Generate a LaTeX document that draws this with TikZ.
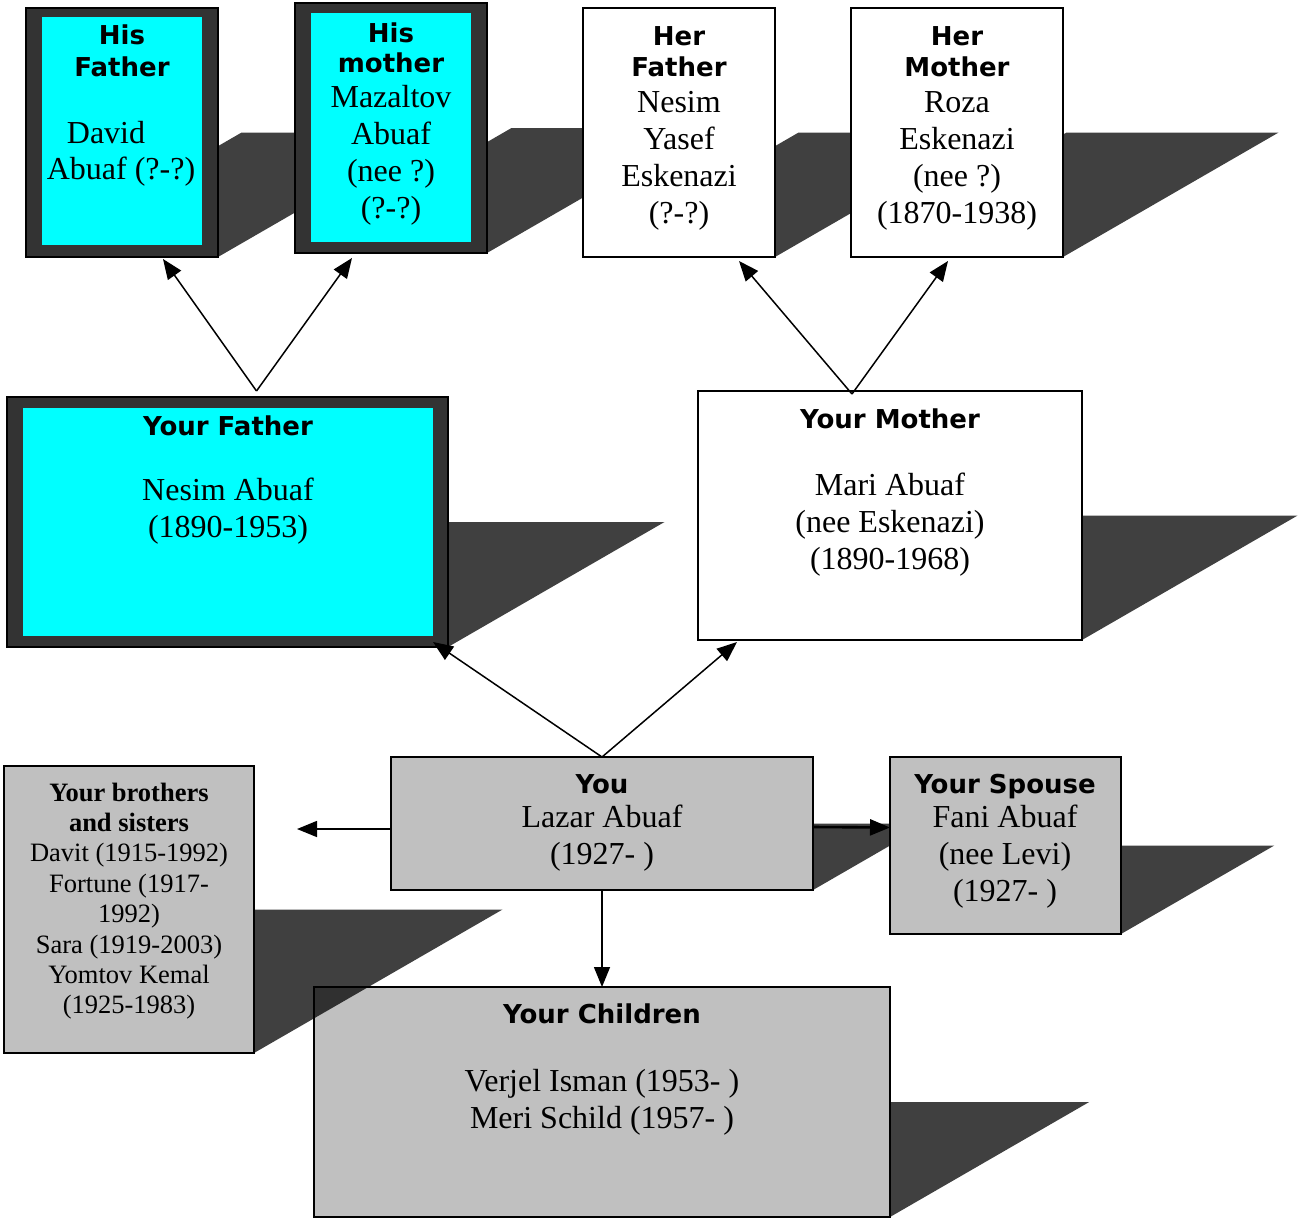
\documentclass[tikz,border=0pt]{standalone}
\usepackage{fontspec}
\setmainfont{Liberation Serif}
\newfontfamily\headfont{DejaVu Sans}
\usetikzlibrary{arrows.meta}
\definecolor{cyanfill}{HTML}{00FFFF}
\definecolor{framegray}{HTML}{333333}
\definecolor{boxgray}{HTML}{C0C0C0}
\newcommand\famshadow[4]{%
  \pgfmathsetmacro\famHh{(#4-#2)/2}%
  \pgfmathsetmacro\famD{\famHh*1.732}%
  \fill[shadowfill] (#1,#4) -- (#3,#4) -- ({#3+\famD},{#2+\famHh}) -- ({#1+\famD},{#2+\famHh}) -- cycle;}
\newcommand\fambox[6]{%
  \pgfmathsetmacro\famW{#5-#3}%
  \pgfmathsetmacro\famHt{#6-#4}%
  \node[#2, minimum width=\famW pt, minimum height=\famHt pt] (#1) at ({(#3+#5)/2},{(#4+#6)/2}) {};}
\begin{document}
\begin{tikzpicture}[x=1pt,y=-1pt,
  shadowfill/.style={fill=black, fill opacity=0.75, draw=none},
  framebox/.style={draw=black, line width=1.6pt, fill=framegray, inner sep=0, outer sep=0},
  whitebox/.style={draw=black, line width=1.6pt, fill=white, inner sep=0, outer sep=0},
  graybox/.style={draw=black, line width=1.6pt, fill=boxgray, inner sep=0, outer sep=0},
  head/.style={font=\headfont\bfseries\fontsize{26}{31}\selectfont, anchor=base, inner sep=0},
  body/.style={font=\fontsize{32}{37}\selectfont, anchor=base, inner sep=0},
  sbhead/.style={font=\bfseries\fontsize{26.5}{30}\selectfont, anchor=base, inner sep=0},
  sbody/.style={font=\fontsize{26.5}{30}\selectfont, anchor=base, inner sep=0},
  conn/.style={line width=1.5pt, -{Triangle[length=20pt,width=16pt]}}
]
\useasboundingbox (0,0) rectangle (1309,1218);

% His Father
\famshadow{26}{8}{218}{257}
\fambox{hf}{framebox}{26}{8}{218}{257}
\fill[cyanfill] (42,17) rectangle (202,245);
% His mother
\famshadow{295}{3}{487}{253}
\fambox{hm}{framebox}{295}{3}{487}{253}
\fill[cyanfill] (311,13) rectangle (471,242);
% Her Father
\famshadow{583}{8}{775}{257}
\fambox{herf}{whitebox}{583}{8}{775}{257}
% Her Mother
\famshadow{851}{8}{1063}{257}
\fambox{herm}{whitebox}{851}{8}{1063}{257}
% Your Father
\famshadow{7}{397}{448}{647}
\fambox{yf}{framebox}{7}{397}{448}{647}
\fill[cyanfill] (23,408) rectangle (433,636);
% Your Mother
\famshadow{698}{391}{1082}{640}
\fambox{ym}{whitebox}{698}{391}{1082}{640}
% You
\famshadow{391}{757}{813}{890}
\fambox{you}{graybox}{391}{757}{813}{890}
% Spouse
\famshadow{890}{757}{1121}{934}
\fambox{sp}{graybox}{890}{757}{1121}{934}
% Children
\famshadow{314}{987}{890}{1217}
\fambox{ch}{graybox}{314}{987}{890}{1217}
% Brothers and sisters
\famshadow{4}{766}{254}{1053}
\fambox{bs}{graybox}{4}{766}{254}{1053}

% texts
\node[head] (hft1) at (122,44) {His};
\node[head] (hft2) at (122,76) {Father};
\node[body] (hft3) at (106,143) {David};
\node[body] (hft4) at (121,179) {Abuaf (?-?)};

\node[head] (hmt1) at (391,42) {His};
\node[head] (hmt2) at (391,72) {mother};
\node[body] (hmt3) at (391,107) {Mazaltov};
\node[body] (hmt4) at (391,144) {Abuaf};
\node[body] (hmt5) at (391,181) {(nee ?)};
\node[body] (hmt6) at (391,218) {(?-?)};

\node[head] (hrf1) at (679,45) {Her};
\node[head] (hrf2) at (679,76) {Father};
\node[body] (hrf3) at (679,112) {Nesim};
\node[body] (hrf4) at (679,149) {Yasef};
\node[body] (hrf5) at (679,186) {Eskenazi};
\node[body] (hrf6) at (679,223) {(?-?)};

\node[head] (hrm1) at (957,45) {Her};
\node[head] (hrm2) at (957,76) {Mother};
\node[body] (hrm3) at (957,112) {Roza};
\node[body] (hrm4) at (957,149) {Eskenazi};
\node[body] (hrm5) at (957,186) {(nee ?)};
\node[body] (hrm6) at (957,223) {(1870-1938)};

\node[head] (yft1) at (228,435) {Your Father};
\node[body] (yft2) at (228,500) {Nesim Abuaf};
\node[body] (yft3) at (228,537) {(1890-1953)};

\node[head] (ymt1) at (890,428) {Your Mother};
\node[body] (ymt2) at (890,495) {Mari Abuaf};
\node[body] (ymt3) at (890,532) {(nee Eskenazi)};
\node[body] (ymt4) at (890,569) {(1890-1968)};

\node[head] (yot1) at (602,793) {You};
\node[body] (yot2) at (602,827) {Lazar Abuaf};
\node[body] (yot3) at (602,864) {(1927- )};

\node[head] (spt1) at (1005,793) {Your Spouse};
\node[body] (spt2) at (1005,827) {Fani Abuaf};
\node[body] (spt3) at (1005,864) {(nee Levi)};
\node[body] (spt4) at (1005,901) {(1927- )};

\node[head] (cht1) at (602,1023) {Your Children};
\node[body] (cht2) at (602,1091) {Verjel Isman (1953- )};
\node[body] (cht3) at (602,1128) {Meri Schild (1957- )};

\node[sbhead] (bst1) at (129,801) {Your brothers};
\node[sbhead] (bst2) at (129,831.4) {and sisters};
\node[sbody] (bst3) at (129,861.8) {Davit (1915-1992)};
\node[sbody] (bst4) at (129,892.2) {Fortune (1917-};
\node[sbody] (bst5) at (129,922.6) {1992)};
\node[sbody] (bst6) at (129,953) {Sara (1919-2003)};
\node[sbody] (bst7) at (129,983.4) {Yomtov Kemal};
\node[sbody] (bst8) at (129,1013.8) {(1925-1983)};

% connectors
\coordinate (yfj) at ([xshift=29pt,yshift=6pt]yf.north);
\draw[conn] (yfj) -- ([xshift=41pt,yshift=-2pt]hf.south);
\draw[conn] (yfj) -- ([xshift=-39pt,yshift=-5pt]hm.south);
\coordinate (ymj) at ([xshift=-38pt,yshift=-3pt]ym.north);
\draw[conn] (ymj) -- ([xshift=60pt,yshift=-4pt]herf.south);
\draw[conn] (ymj) -- ([xshift=-9pt,yshift=-4pt]herm.south);
\draw[conn] (you.north) -- ([xshift=-15pt,yshift=5pt]yf.south east);
\draw[conn] (you.north) -- ([xshift=39pt,yshift=-2pt]ym.south west);
\coordinate (bsend) at (297,829);
\draw[conn] ([yshift=-5.5pt]you.west) -- (bsend);
\draw[conn, line width=2.6pt] ([yshift=-3.5pt]you.east) -- ([yshift=18pt]sp.west);
\draw[conn] (you.south) -- (ch.north);
\end{tikzpicture}
\end{document}
